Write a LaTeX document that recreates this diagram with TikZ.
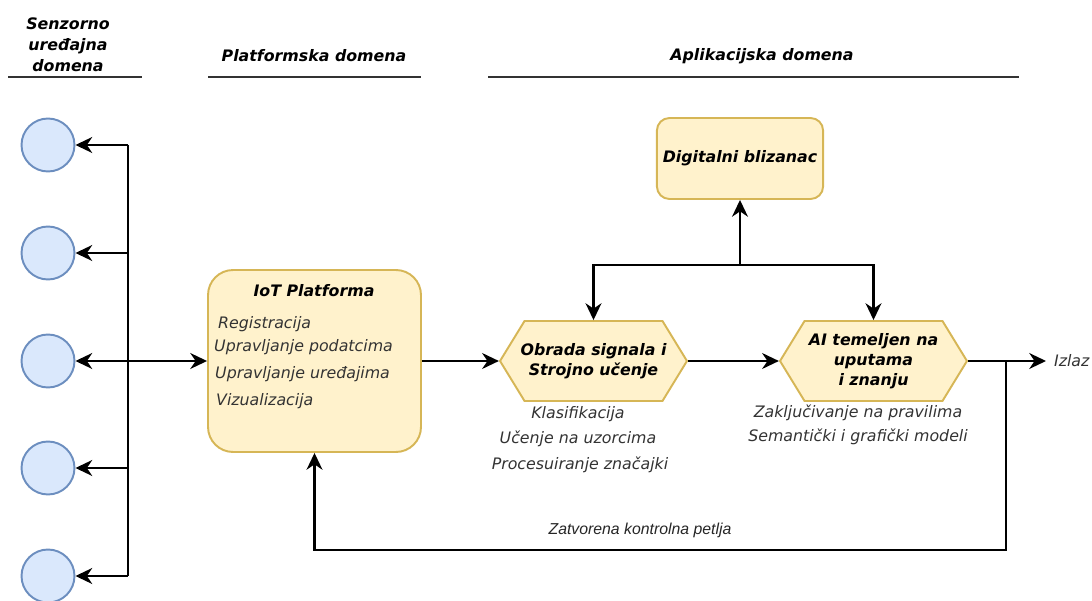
\documentclass[tikz,border=0pt]{standalone}
\usepackage{fontspec}
\setmainfont{DejaVu Sans}
\newfontfamily\loopfont{Liberation Sans}
\usetikzlibrary{arrows.meta, shapes.symbols}

\definecolor{sensorfill}{HTML}{DAE8FC}
\definecolor{sensorline}{HTML}{6C8EBF}
\definecolor{boxfill}{HTML}{FFF2CC}
\definecolor{boxline}{HTML}{D6B656}

\begin{document}
\begin{tikzpicture}[
        x=0.02cm, y=-0.02cm,
        sensor/.style={circle, draw=sensorline, fill=sensorfill, line width=1.1pt, minimum size=1.06cm, inner sep=0pt},
        platform/.style={rectangle, rounded corners=0.5cm, draw=boxline, fill=boxfill, line width=1.1pt, minimum width=4.26cm, minimum height=3.64cm},
        twinbox/.style={rectangle, rounded corners=0.25cm, draw=boxline, fill=boxfill, line width=1.1pt, minimum width=3.2cm, minimum height=1.62cm, font=\bfseries\itshape\fontsize{9}{11}\selectfont},
        stage/.style={signal, signal to=east and west, signal pointer angle=117, draw=boxline, fill=boxfill, line width=1.1pt, minimum width=3.74cm, minimum height=1.6cm, inner xsep=-0.2cm, inner ysep=0pt, align=center, font=\bfseries\itshape\fontsize{9}{11.5}\selectfont},
        heading/.style={font=\bfseries\itshape\fontsize{9}{12}\selectfont, align=center},
        item/.style={font=\itshape\fontsize{9}{11}\selectfont, text=black!80},
        rule/.style={line width=0.8pt, black!80},
        line/.style={line width=1.4pt},
        arrow/.style={line width=1.4pt, -{Stealth[length=9.5pt, width=9pt, inset=3pt]}}
    ]
        \useasboundingbox (0,0) rectangle (1092,601);

        % Domain headings
        \node[heading] (hsens) at (68,45) {Senzorno\\uređajna\\domena};
        \node[heading] (hplat) at (314,56) {Platformska domena};
        \node[heading] (happ) at (762,56) {Aplikacijska domena};
        \draw[rule] (8,77) -- (142,77);
        \draw[rule] (208,77) -- (421,77);
        \draw[rule] (488,77) -- (1019,77);

        % Sensors
        \foreach \i/\y in {1/145, 2/253, 3/361, 4/468, 5/576}
            \node[sensor] (s\i) at (48,\y) {};

        % IoT platform
        \node[platform] (iot) at (314.5,361) {};
        \node[heading] (iottitle) at (314,291) {IoT Platforma};
        \node[item, anchor=west] (reg) at (212,324) {Registracija};
        \node[item, anchor=west] (pod) at (208,347) {Upravljanje podatcima};
        \node[item, anchor=west] (ure) at (209,374) {Upravljanje uređajima};
        \node[item, anchor=west] (viz) at (210,401) {Vizualizacija};

        % Application stages
        \node[stage] (obrada) at (593.5,361) {Obrada signala i\\Strojno učenje};
        \node[stage] (ai) at (873.5,361) {AI temeljen na\\uputama\\i znanju};
        \node[twinbox] (twin) at (740,158.5) {Digitalni blizanac};

        \node[item] (klas) at (578,414) {Klasifikacija};
        \node[item] (ucenje) at (578,439) {Učenje na uzorcima};
        \node[item] (proc) at (580,465) {Procesuiranje značajki};
        \node[item] (zaklj) at (858,413) {Zaključivanje na pravilima};
        \node[item] (sem) at (858,437) {Semantički i grafički modeli};

        % Bus to sensors
        \coordinate (bus) at (128,361);
        \draw[line] (s1 -| bus) -- (s5 -| bus);
        \foreach \i in {1,...,5}
            \draw[arrow] (s\i -| bus) -- (s\i.east);
        \draw[arrow] (bus) -- (iot.west);

        % Main flow
        \draw[arrow] (iot.east) -- (obrada.west);
        \draw[arrow] (obrada.east) -- (ai.west);
        \coordinate (out) at (1046,361);
        \node[item, anchor=west, inner sep=1pt] (izlaz) at (1052,361) {Izlaz};
        \draw[arrow] (ai.east) -- (out);

        % Digital twin
        \coordinate (split) at (740,265);
        \draw[arrow] (split) -- (twin.south);
        \draw[arrow] (split) -| (obrada.north);
        \draw[arrow] (split) -| (ai.north);

        % Closed loop
        \coordinate (tap) at (1006,361);
        \coordinate (loopcorner) at (1006,550);
        \draw[arrow] (tap) -- (loopcorner) -| (iot.south);
        \node[font=\loopfont\itshape\fontsize{9}{11}\selectfont, text=black!85] (looplabel) at (640,530) {Zatvorena kontrolna petlja};
\end{tikzpicture}
\end{document}
